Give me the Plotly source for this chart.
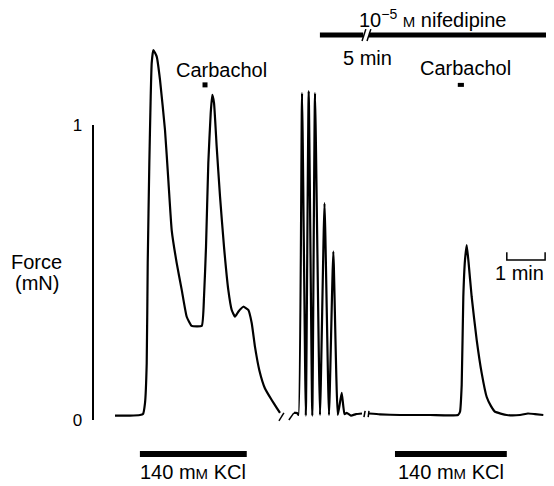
import plotly.graph_objects as go

# ---- Data (time in min, force in mN) ----
# Segment 1: control, 140 mM KCl then carbachol
seg1_t = [0.000, 0.392, 0.653, 0.731, 0.783, 0.828, 0.854, 0.896, 0.932, 0.958, 1.000,
          1.089, 1.175, 1.305, 1.392, 1.480, 1.611, 1.742, 1.872, 2.003, 2.264, 2.324,
          2.376, 2.436, 2.499, 2.540, 2.585, 2.655, 2.742, 2.846, 2.958, 3.047, 3.133,
          3.219, 3.350, 3.480, 3.569, 3.655, 3.768, 3.916, 4.091, 4.222, 4.308]
seg1_f = [0.015, 0.015, 0.017, 0.020, 0.057, 0.193, 0.532, 0.871, 1.096, 1.210, 1.254,
          1.232, 1.153, 0.983, 0.814, 0.644, 0.532, 0.441, 0.350, 0.319, 0.319, 0.418,
          0.587, 0.871, 1.041, 1.102, 1.075, 0.926, 0.757, 0.587, 0.441, 0.373, 0.350,
          0.367, 0.384, 0.373, 0.329, 0.248, 0.169, 0.107, 0.068, 0.041, 0.024]

# Segment 2: nifedipine wash-in, spontaneous spikes
seg2_t = [4.674, 4.752, 4.791, 4.883, 4.982, 5.057, 5.151, 5.222, 5.352, 5.470,
          5.587, 5.700, 5.817, 5.919, 5.992, 6.050, 6.162, 6.292, 6.449]
seg2_f = [0.024, 0.024, 0.017, 1.108, 0.015, 1.115, 0.015, 1.108, 0.017, 0.735,
          0.017, 0.571, 0.017, 0.092, 0.020, 0.024, 0.015, 0.020, 0.022]

# Segment 3: nifedipine, 140 mM KCl then carbachol
seg3_t = [6.632, 6.919, 7.441, 8.225, 8.956, 9.008, 9.052, 9.094, 9.138, 9.183, 9.230,
          9.313, 9.444, 9.574, 9.705, 9.817, 9.922, 10.227, 10.574, 10.783, 10.966, 11.183]
seg3_f = [0.022, 0.019, 0.017, 0.017, 0.017, 0.028, 0.119, 0.417, 0.542, 0.593, 0.536,
          0.417, 0.271, 0.159, 0.078, 0.047, 0.028, 0.017, 0.017, 0.022, 0.020, 0.017]

# Break marks in trace (pairs of points)
break_t = [[4.28, 4.41], [4.54, 4.67], [6.50, 6.53], [6.61, 6.63]]
break_f = [[-0.003, 0.024], [0.000, 0.024], [0.010, 0.031], [0.010, 0.031]]

# Stimulus bars
kcl_bars = [[0.65, 3.44], [7.31, 10.23]]
kcl_level = -0.115
kcl_label = "140 m<span style='font-size:15px'>M</span> KCl"
nif_bars = [[5.35, 6.48], [6.63, 11.27]]
nif_level = 1.305
nif_break_t = [[6.45, 6.55], [6.58, 6.68]]
nif_break_f = [[1.285, 1.325], [1.285, 1.325]]
carb_t = [2.35, 9.03]
carb_level = 1.136

# Scale bar: 1 min
scale_t = [10.23, 10.23, 11.23, 11.23]
scale_f = [0.569, 0.542, 0.542, 0.569]

fig = go.Figure()
line = dict(color="black", width=2.2)
for t, f in [(seg1_t, seg1_f), (seg2_t, seg2_f), (seg3_t, seg3_f)]:
    fig.add_trace(go.Scatter(x=t, y=f, mode="lines", line=dict(line, shape="spline", smoothing=0.4),
                             hoverinfo="skip", showlegend=False))
for t, f in zip(break_t, break_f):
    fig.add_trace(go.Scatter(x=t, y=f, mode="lines", line=dict(color="black", width=1.5),
                             hoverinfo="skip", showlegend=False))
for b in kcl_bars:
    fig.add_trace(go.Scatter(x=b, y=[kcl_level, kcl_level], mode="lines",
                             line=dict(color="black", width=6), showlegend=False, hoverinfo="skip"))
for b in nif_bars:
    fig.add_trace(go.Scatter(x=b, y=[nif_level, nif_level], mode="lines",
                             line=dict(color="black", width=5), showlegend=False, hoverinfo="skip"))
for t, f in zip(nif_break_t, nif_break_f):
    fig.add_trace(go.Scatter(x=t, y=f, mode="lines", line=dict(color="black", width=1.5),
                             hoverinfo="skip", showlegend=False))
fig.add_trace(go.Scatter(x=[carb_t[0]], y=[carb_level], mode="markers",
                         marker=dict(symbol="square", size=5, color="black"),
                         showlegend=False, hoverinfo="skip"))
fig.add_trace(go.Scatter(x=[carb_t[1] - 0.08, carb_t[1] + 0.08], y=[carb_level, carb_level], mode="lines",
                         line=dict(color="black", width=4), showlegend=False, hoverinfo="skip"))
fig.add_trace(go.Scatter(x=scale_t, y=scale_f, mode="lines", line=dict(color="black", width=1.5),
                         showlegend=False, hoverinfo="skip"))
# dummy trace for the force axis subplot
fig.add_trace(go.Scatter(x=[None], y=[None], xaxis="x2", yaxis="y2", showlegend=False,
                         hoverinfo="skip"))

FONT = "Liberation Sans, Arial, sans-serif"
txt = dict(showarrow=False, xref="x", yref="y", font=dict(family=FONT, size=20, color="black"),
           xanchor="center", yanchor="middle")
ann = [
    dict(txt, x=2.77, y=1.186, text="Carbachol"),
    dict(txt, x=9.16, y=1.193, text="Carbachol"),
    dict(txt, x=8.30, y=1.360, text="10<sup>−5</sup> <span style='font-size:15px'>M</span> nifedipine"),
    dict(txt, x=6.58, y=1.227, text="5 min"),
    dict(txt, x=10.57, y=0.500, text="1 min"),
    dict(txt, x=-2.04, y=0.537, text="Force"),
    dict(txt, x=-2.04, y=0.464, text="(mN)"),
    dict(txt, x=2.04, y=-0.175, text=kcl_label),
    dict(txt, x=8.77, y=-0.175, text=kcl_label),
]

# The page body has an 8 px margin; the figure fills the visible area after it.
fig.update_layout(
    width=546, height=478, margin=dict(l=0, r=0, t=0, b=0, autoexpand=False),
    paper_bgcolor="white", plot_bgcolor="rgba(0,0,0,0)",
    xaxis=dict(range=[-2.794, 11.462], visible=False, automargin=False),
    yaxis=dict(range=[-0.2237, 1.3966], visible=False, automargin=False),
    xaxis2=dict(range=[-2.794, 11.462], visible=False, anchor="y2", domain=[0, 1],
                automargin=False),
    yaxis2=dict(range=[0, 1], domain=[0.1381, 0.7552], anchor="free", position=0.1551,
                showline=True, linewidth=2, linecolor="black", ticks="inside", ticklen=6,
                tickwidth=2, tickcolor="black", tickvals=[0, 1], ticktext=["0", "1"],
                tickfont=dict(family=FONT, size=17, color="black"), showgrid=False,
                zeroline=False, ticklabelstandoff=6, automargin=False),
    annotations=ann,
)
fig.write_html("out.html")
